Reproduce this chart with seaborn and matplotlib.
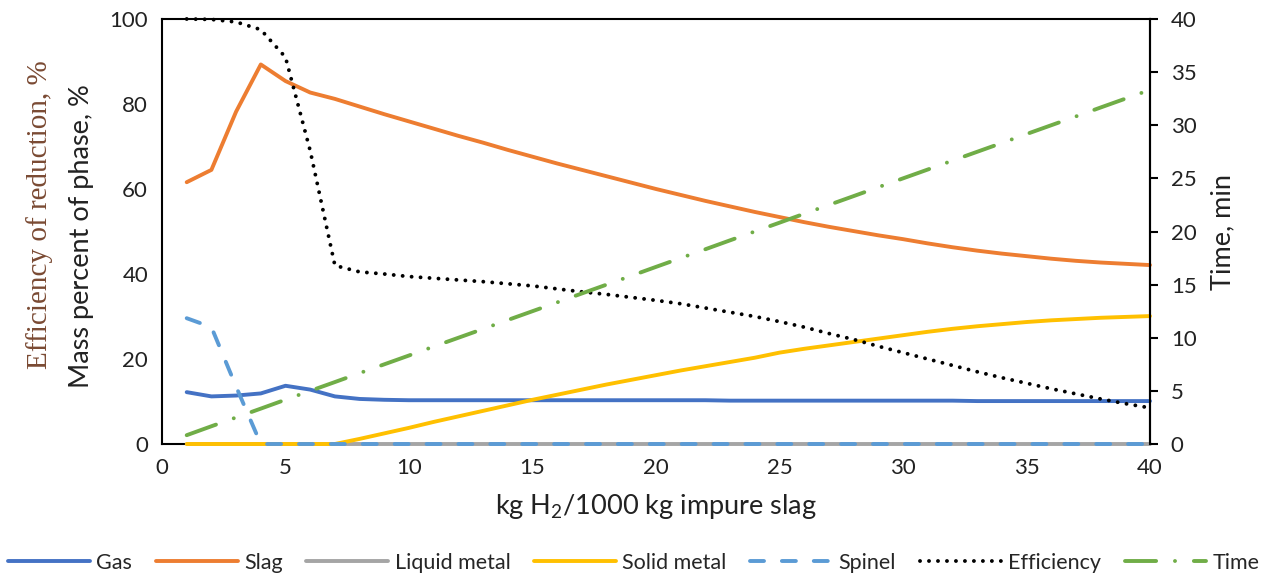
import matplotlib
matplotlib.use("Agg")
import matplotlib.pyplot as plt
import seaborn as sns
import pandas as pd

# kg H2 per 1000 kg impure slag
h2 = [1, 2, 3, 4, 5, 6, 7, 8, 9, 10, 11, 12, 13, 14, 15, 16, 17, 18, 19, 20,
      21, 22, 23, 24, 25, 26, 27, 28, 29, 30, 31, 32, 33, 34, 35, 36, 37, 38, 39, 40]

gas = [12.2, 11.2, 11.4, 11.9, 13.7, 12.8, 11.2, 10.6, 10.4, 10.3,
       10.3, 10.3, 10.3, 10.3, 10.3, 10.3, 10.3, 10.3, 10.3, 10.3,
       10.3, 10.3, 10.2, 10.2, 10.2, 10.2, 10.2, 10.2, 10.2, 10.2,
       10.2, 10.2, 10.1, 10.1, 10.1, 10.1, 10.1, 10.1, 10.1, 10.1]
slag = [61.6, 64.5, 78.2, 89.3, 85.4, 82.7, 81.2, 79.4, 77.6, 75.9,
        74.2, 72.5, 70.9, 69.2, 67.6, 66.0, 64.5, 63.0, 61.5, 60.0,
        58.6, 57.2, 55.9, 54.6, 53.4, 52.2, 51.1, 50.1, 49.1, 48.2,
        47.2, 46.3, 45.5, 44.8, 44.2, 43.6, 43.1, 42.7, 42.4, 42.1]
liquid_metal = [0] * 40
solid_metal = [0, 0, 0, 0, 0, 0, 0, 1.2, 2.5, 3.8,
               5.2, 6.5, 7.8, 9.1, 10.4, 11.6, 12.8, 14.0, 15.1, 16.2,
               17.3, 18.3, 19.3, 20.3, 21.5, 22.4, 23.2, 24.0, 24.8, 25.6,
               26.4, 27.1, 27.7, 28.2, 28.7, 29.1, 29.4, 29.7, 29.9, 30.1]
spinel = [29.6, 27.5, 13.5, 0, 0, 0, 0, 0, 0, 0,
          0, 0, 0, 0, 0, 0, 0, 0, 0, 0,
          0, 0, 0, 0, 0, 0, 0, 0, 0, 0,
          0, 0, 0, 0, 0, 0, 0, 0, 0, 0]
efficiency = [100, 99.9, 99.3, 97.5, 91.0, 69.0, 42.0, 40.5, 40.0, 39.4,
              39.0, 38.6, 38.2, 37.7, 37.2, 36.5, 35.8, 35.2, 34.5, 33.8,
              33.0, 32.0, 31.0, 30.0, 28.8, 27.5, 26.0, 24.6, 23.0, 21.5,
              20.0, 18.5, 17.0, 15.6, 14.3, 13.0, 11.8, 10.6, 9.5, 8.5]
time_min = [0.83, 1.67, 2.50, 3.33, 4.17, 5.00, 5.83, 6.67, 7.50, 8.33,
            9.17, 10.00, 10.83, 11.67, 12.50, 13.33, 14.17, 15.00, 15.83, 16.67,
            17.50, 18.33, 19.17, 20.00, 20.83, 21.67, 22.50, 23.33, 24.17, 25.00,
            25.83, 26.67, 27.50, 28.33, 29.17, 30.00, 30.83, 31.67, 32.50, 33.33]

df = pd.DataFrame({"h2": h2, "Gas": gas, "Slag": slag, "Liquid metal": liquid_metal,
                   "Solid metal": solid_metal, "Spinel": spinel,
                   "Efficiency": efficiency, "Time": time_min})

sns.set_theme(style="white")
plt.rcParams["font.family"] = ["Lato", "DejaVu Sans"]
plt.rcParams["mathtext.fontset"] = "custom"
plt.rcParams["mathtext.rm"] = "Lato"

fig = plt.figure(figsize=(12.68, 5.77), dpi=100)
ax = fig.add_axes([162 / 1268, 1 - 444 / 577, (1150 - 162) / 1268, (444 - 19) / 577])
ax2 = ax.twinx()

lw = 2.8
txt = "#222222"
series = [
    ("Gas", "#4472C4", None),
    ("Slag", "#ED7D31", None),
    ("Liquid metal", "#A5A5A5", None),
    ("Solid metal", "#FFC000", None),
    ("Spinel", "#5B9BD5", (3.6, 4.6)),
    ("Efficiency", "black", (0.01, 2.3)),
]
handles = []
for name, col, dash in series:
    sns.lineplot(data=df, x="h2", y=name, ax=ax, color=col, linewidth=lw, label=name, legend=False)
    ln = ax.lines[-1]
    ln.set_clip_on(False)
    ln.set_zorder(3)
    if dash is not None:
        ln.set_dashes(dash)
        ln.set_dash_capstyle("round")
    handles.append(ln)

sns.lineplot(data=df, x="h2", y="Time", ax=ax2, color="#70AD47", linewidth=lw, label="Time", legend=False)
tl = ax2.lines[-1]
tl.set_dashes((8.0, 4.85, 0.01, 4.85))
tl.set_dash_capstyle("round")
tl.set_clip_on(False)
tl.set_zorder(3)
handles.append(tl)

ax.set_xlim(0, 40)
ax.set_ylim(0, 100)
ax2.set_ylim(0, 40)
ax.set_xticks(range(0, 41, 5))
ax.set_yticks(range(0, 101, 20))
ax2.set_yticks(range(0, 41, 5))
ax.set_xlabel(r"kg H$_2$/1000 kg impure slag", fontsize=19.5, labelpad=10, color=txt)
ax.set_ylabel("")
ax2.set_ylabel("Time, min", fontsize=19.5, labelpad=10, color=txt)

ax.tick_params(axis="both", length=0, labelsize=16, pad=10, colors=txt)
ax2.tick_params(axis="y", direction="out", length=6, width=1.5, labelsize=16, pad=9,
                colors="black", labelcolor=txt)
for s in ax.spines.values():
    s.set_color("black")
    s.set_linewidth(1.5)
    s.set_zorder(2.5)
for side in ("left", "top", "bottom"):
    ax2.spines[side].set_visible(False)
ax2.spines["right"].set_color("black")
ax2.spines["right"].set_linewidth(1.5)
ax2.spines["right"].set_zorder(1)

fig.text(40 / 1268, 1 - 215 / 577, "Efficiency of reduction, %", rotation=90, va="center", ha="center",
         fontsize=21, family=["Liberation Serif"], color="#7a4a33")
fig.text(82 / 1268, 1 - 236 / 577, "Mass percent of phase, %", rotation=90, va="center", ha="center",
         fontsize=19.5, color=txt)

fig.legend(handles, [h.get_label() for h in handles], loc="center", ncol=7,
           bbox_to_anchor=(0.5, 1 - 563 / 577), frameon=False, fontsize=15.5,
           handlelength=3.8, handletextpad=0.3, columnspacing=1.1)

fig.savefig("out.png", dpi=100)
plt.close(fig)
